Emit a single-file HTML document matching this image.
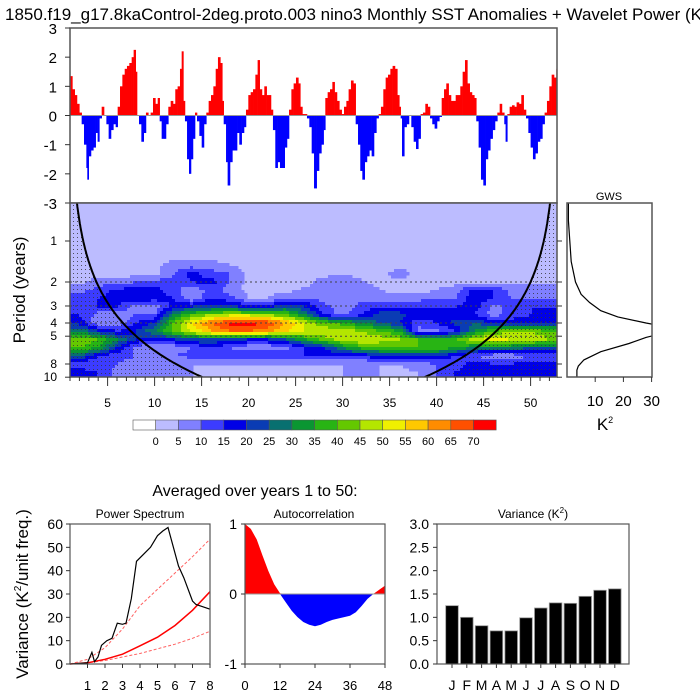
<!DOCTYPE html>
<html><head><meta charset="utf-8"><style>
html,body{margin:0;padding:0;background:#fff;}
svg{display:block;font-family:"Liberation Sans",Arial,sans-serif;}
</style></head><body>
<svg id="svg" width="700" height="700" viewBox="0 0 700 700" xmlns="http://www.w3.org/2000/svg">
<defs>
<pattern id="dots" width="4" height="4" patternUnits="userSpaceOnUse"><rect x="1" y="1" width="1" height="1" fill="#333"/></pattern>
<clipPath id="wclip"><rect x="70" y="203" width="487" height="174"/></clipPath>
<clipPath id="gclip"><rect x="567" y="203" width="85" height="174"/></clipPath>
<clipPath id="tclip"><rect x="70" y="28" width="487" height="175"/></clipPath>
</defs>
<text x="5" y="20" font-size="17">1850.f19_g17.8kaControl-2deg.proto.003 nino3 Monthly SST Anomalies + Wavelet Power (K²)</text>
<g id="topPanel"></g>
<g id="wav"></g>
<g id="gws"></g>
<g id="cbar"></g>
<text x="255" y="496" font-size="16" text-anchor="middle">Averaged over years 1 to 50:</text>
<g id="ps"></g>
<g id="ac"></g>
<g id="va"></g>
</svg>
<script>
// ---- data ----
const tsYears=[1.00,1.25,1.50,1.74,1.99,2.24,2.49,2.74,2.84,2.99,3.23,3.48,3.73,3.94,4.12,4.37,4.62,4.87,5.11,5.36,5.61,5.86,6.07,6.32,6.57,6.82,7.06,7.31,7.56,7.77,7.99,8.13,8.34,8.59,8.84,9.08,9.33,9.58,9.83,10.08,10.33,10.54,10.75,11.00,11.21,11.46,11.71,11.96,12.20,12.45,12.70,12.88,13.06,13.23,13.45,13.66,13.87,14.08,14.30,14.51,14.76,15.01,15.25,15.50,15.75,16.00,16.25,16.50,16.74,16.99,17.20,17.35,17.60,17.77,18.02,18.27,18.55,18.77,19.01,19.26,19.51,19.72,19.97,20.22,20.47,20.72,20.96,21.18,21.42,21.67,21.92,22.17,22.38,22.59,22.84,23.09,23.34,23.59,23.84,24.08,24.30,24.55,24.79,25.04,25.29,25.50,25.72,26.00,26.21,26.46,26.71,26.96,27.24,27.49,27.74,27.98,28.16,28.41,28.66,28.91,29.15,29.40,29.65,29.90,30.15,30.40,30.64,30.89,31.14,31.39,31.64,31.88,32.10,32.35,32.59,32.84,33.09,33.34,33.59,33.83,34.08,34.33,34.58,34.83,35.08,35.32,35.57,35.82,36.03,36.18,36.32,36.56,36.81,37.06,37.31,37.56,37.81,38.05,38.30,38.55,38.80,39.05,39.30,39.54,39.79,40.04,40.29,40.54,40.79,41.03,41.28,41.53,41.78,42.03,42.27,42.52,42.77,43.02,43.27,43.52,43.76,44.01,44.22,44.47,44.72,44.97,45.22,45.46,45.71,45.96,46.21,46.46,46.71,46.95,47.20,47.34,47.52,47.77,48.02,48.27,48.51,48.76,49.01,49.26,49.51,49.76,50.00,50.25,50.50,50.75,51.00,51.25,51.49,51.74,51.99,52.24,52.49,52.74,52.99];
const tsValues=[1.35,0.9,0.7,0.4,0.1,-0.3,-1.0,-1.8,-2.2,-1.4,-1.2,-1.1,-0.6,-0.9,-0.1,0.3,0,-0.3,-0.8,-0.5,-0.3,-0.4,0.3,1.0,1.4,1.6,1.7,1.8,2.0,2.25,1.5,0,-0.3,-0.9,-0.6,0.1,0,0.1,0.6,0.4,0.6,-0.2,-0.8,-0.8,-0.3,0.3,0.5,0.4,0.9,1.0,1.6,2.2,0.5,-0.2,-1.5,-2.0,-1.5,-0.8,0.1,-0.2,-0.7,-1.1,-0.3,0.1,0.5,0.7,1.0,1.6,2.0,1.8,0.5,-0.3,-1.6,-2.4,-1.6,-1.2,-1.2,-0.6,-1.0,-0.6,-0.4,0.2,0.7,0.8,0.9,1.4,1.9,0.9,0.7,1.0,0.7,0.7,0.2,-0.5,-1.8,-1.6,-1.8,-1.8,-1.1,-0.8,0.2,0.9,1.1,1.3,1.1,0.3,0.05,0.05,-0.1,-0.4,-1.3,-2.5,-1.9,-1.3,-1.0,-0.5,0.6,0.8,0.9,1.15,0.8,0.5,0.2,0.05,0.3,0.5,0.9,1.2,1.1,-0.3,-1.0,-1.9,-2.2,-1.6,-1.4,-1.2,-1.4,-0.6,-0.1,0.05,0.3,0.9,1.3,1.4,1.6,1.7,1.6,0.7,0.3,-0.1,-1.4,-0.4,-0.3,0,-0.4,-0.9,-1.15,-0.8,0.05,0.1,0.4,0.3,-0.1,-0.3,-0.45,-0.2,-0.05,0.6,0.9,1.1,0.7,0.5,0.5,0.7,0.7,1.0,1.5,1.9,1.1,0.8,0.7,0.6,-0.2,-1.1,-2.2,-2.4,-1.5,-1.2,-0.8,-0.5,-0.2,0.1,0.4,0.1,-0.3,-0.9,0.05,0.3,0.35,0.3,0.45,0.4,0.7,0.2,-0.1,-0.6,-1.1,-1.5,-1.3,-0.9,-0.8,-0.3,0.1,0.5,1.0,1.4,1.3,1.6,1.3];
// wavelet power: columns at years 2,4,...,52; rows at log2(period)
const wavYears=[2,4,6,8,10,12,14,16,18,20,22,24,26,28,30,32,34,36,38,40,42,44,46,48,50,52];
const wavLog2Periods=[0.4,0.6,0.8,1.0,1.2,1.4,1.6,1.8,2.0,2.2,2.4,2.6,2.8,3.0,3.2];
const wavPower=[
[3,3,3,3,3,3,3,3,3,3,3,3,3,3,3,3,3,3,3,3,3,3,3,3,3,3],
[3,3,3,3,3,8,8,8,5,3,3,3,3,3,3,3,3,3,3,3,3,3,3,3,3,3],
[3,3,3,3,3,10,17,12,10,3,3,3,3,3,5,3,3,8,3,3,3,3,3,3,3,3],
[3,8,6,10,12,12,15,17,10,3,3,3,3,8,8,6,3,3,3,3,3,3,3,3,3,3],
[8,12,17,17,17,12,6,12,8,3,3,3,6,8,8,8,5,3,3,5,8,17,15,8,8,8],
[12,15,18,18,18,15,6,15,12,5,5,10,10,8,8,8,8,8,8,10,10,18,15,10,10,10],
[12,15,15,8,6,18,20,22,22,18,18,25,20,12,6,12,15,15,15,15,15,18,8,12,15,15],
[15,8,6,10,10,30,40,45,48,48,45,40,30,15,8,15,22,22,18,18,18,15,8,12,15,18],
[18,6,6,15,20,40,55,65,72,72,70,60,50,40,38,30,25,20,12,15,22,25,20,18,20,20],
[30,20,15,20,30,42,50,60,65,65,62,55,50,50,48,45,40,35,8,8,15,30,40,45,45,40],
[45,40,30,20,15,20,25,25,22,20,20,25,35,42,48,50,48,45,40,38,40,48,52,50,50,45],
[40,35,20,8,6,6,10,15,10,6,6,8,15,20,30,38,40,40,40,40,35,30,30,30,25,25],
[25,15,12,10,8,10,12,15,15,15,15,15,15,15,15,15,20,22,22,20,15,10,6,6,10,10],
[10,12,10,8,5,5,5,5,5,5,5,5,5,5,5,5,5,5,8,10,12,18,15,15,18,18],
[18,15,8,8,6,5,5,3,3,3,3,3,3,3,5,5,5,3,5,10,15,20,20,20,20,20]];
const cbLabels=[0,5,10,15,20,25,30,35,40,45,50,55,60,65,70];
const gwsLog2=[-0.93,-0.5,0,0.5,1.0,1.3,1.5,1.7,1.85,2.0,2.1,2.25,2.35,2.5,2.7,2.9,3.05,3.15,3.32];
const gwsPower=[0.5,0.5,1,1.5,3,5,8,12,18,28,36,34,28,22,12,6,4,3.5,3.5];
const psPeriod=[0,1,1.25,1.4,1.6,1.8,2.1,2.4,2.7,3,3.2,3.5,3.8,4.2,4.6,5,5.3,5.6,6.2,6.5,7,7.2,7.6,8];
const psPower=[0,0.5,5,1,3,8,10,11,17.5,17,17.5,28,44,47,50,55,57,58.5,42,37,27,25.5,24.5,23.5];
const redX=[0,1,2,3,4,5,6,7,8];
const redMid=[0,0.5,2,4.2,7.8,11.5,16.5,23,31];
const redUp=[0,2,7,15,25,32,39,46,53.5];
const redLo=[0,0.5,1.5,3,4.5,6.5,8.5,11,14];
const acLags=[0,2,4,6,8,10,12,14,16,18,20,22,24,26,28,30,32,34,36,38,40,42,44,46,48];
const acVals=[1,0.93,0.78,0.55,0.33,0.14,0.01,-0.12,-0.24,-0.33,-0.40,-0.44,-0.46,-0.44,-0.40,-0.37,-0.35,-0.33,-0.31,-0.26,-0.17,-0.07,0.0,0.06,0.12];
const months=["J","F","M","A","M","J","J","A","S","O","N","D"];
const monthVar=[1.25,1.0,0.82,0.71,0.71,0.99,1.2,1.31,1.30,1.45,1.58,1.61];

const NS="http://www.w3.org/2000/svg";
function mk(parent,tag,attrs,text){const e=document.createElementNS(NS,tag);for(const k in attrs)e.setAttribute(k,attrs[k]);if(text!==undefined)e.textContent=text;parent.appendChild(e);return e;}
function txt(p,x,y,s,size,anchor,name){const e=mk(p,'text',{x:x,y:y,'font-size':size,'text-anchor':anchor||'middle'},s);

return e;}

// ---- top time series ----
const topG=document.getElementById('topPanel');
const tX=y=>70+(y-1)*9.4, tY=v=>115.5-v*29.17;
const tg=mk(topG,'g',{'clip-path':'url(#tclip)'});
for(let i=0;i<tsYears.length;i++){
  const x0=tX(tsYears[i]), x1=i<tsYears.length-1?tX(tsYears[i+1]):tX(tsYears[i]+0.25);
  const v=tsValues[i], y=Math.min(tY(v),tY(0)), h=Math.abs(tY(v)-tY(0));
  const r=mk(tg,'rect',{x:x0,y:y,width:x1-x0+0.3,height:h,fill:v>=0?'#ff0000':'#0000ff'});
  
  
}
mk(topG,'line',{x1:70,x2:557,y1:tY(0),y2:tY(0),stroke:'#999','stroke-width':1});
mk(topG,'rect',{x:70,y:28,width:487,height:175,fill:'none',stroke:'#555','stroke-width':1.5});
for(let v=-3;v<=3;v++){mk(topG,'line',{x1:65,x2:70,y1:tY(v),y2:tY(v),stroke:'#333'});
 txt(topG,57,tY(v)+6,String(v),15,'end','y-tick-label');}

// ---- wavelet ----
const wav=document.getElementById('wav');
const wY=l=>241+41*l;
const levCols=['#ffffff','#bcbcff','#8080ff','#3c3cff','#0000e6','#0a3cb4','#087070','#0a9632','#28b414','#64c800','#b4e600','#f0f000','#ffc800','#ff8c00','#ff5000','#ff0000'];
function levOf(v){if(v<0)return 0;return Math.min(15,1+Math.floor(v/5));}
function interp(year,l){
  let ci=(year-wavYears[0])/2; ci=Math.max(0,Math.min(wavYears.length-1.001,ci));
  let ri=(l-wavLog2Periods[0])/0.2; ri=Math.max(0,Math.min(wavLog2Periods.length-1.001,ri));
  const c0=Math.floor(ci),r0=Math.floor(ri),fc=ci-c0,fr=ri-r0;
  const a=wavPower[r0][c0],b=wavPower[r0][c0+1],c=wavPower[r0+1][c0],d=wavPower[r0+1][c0+1];
  return (a*(1-fc)+b*fc)*(1-fr)+(c*(1-fc)+d*fc)*fr;}
const wg=mk(wav,'g',{'clip-path':'url(#wclip)'});
const bgR=mk(wg,'rect',{x:70,y:203,width:487,height:174,fill:levCols[1]});


const step=3;
for(let py=203;py<377;py+=step){
  const l=(py+step/2-241)/41;
  let runStart=70,runLev=-1;
  for(let px=70;px<=560;px+=step){
    const lev=px<557?levOf(interp(1+(px+step/2-70)/9.4,l)):-2;
    if(lev!==runLev){
      if(runLev>1){const r=mk(wg,'rect',{x:runStart,y:py,width:px-runStart+0.5,height:step+0.5,fill:levCols[runLev]});
        
        }
      runStart=px;runLev=lev;}
  }
}
// cone of influence
const coiX=P=>9.4*P/0.71;
let lp='',rp='';
for(let l=-0.93;l<=3.33;l+=0.05){const P=Math.pow(2,l);lp+=(lp?'L':'M')+(70+coiX(P)).toFixed(1)+','+wY(l).toFixed(1);rp+=(rp?'L':'M')+(557-coiX(P)).toFixed(1)+','+wY(l).toFixed(1);}
const dl=mk(wg,'path',{d:lp+'L70,377L70,203Z',fill:'url(#dots)',opacity:0.8});
const dr=mk(wg,'path',{d:rp+'L557,377L557,203Z',fill:'url(#dots)',opacity:0.8});
[2,3,4,5].forEach(P=>{const ln=mk(wg,'line',{x1:70,x2:557,y1:wY(Math.log2(P)),y2:wY(Math.log2(P)),stroke:'#444','stroke-dasharray':'2,3','stroke-width':1});});
const cl=mk(wg,'path',{d:lp,fill:'none',stroke:'#000','stroke-width':2});
const cr=mk(wg,'path',{d:rp,fill:'none',stroke:'#000','stroke-width':2});
mk(wav,'rect',{x:70,y:203,width:487,height:174,fill:'none',stroke:'#555','stroke-width':1.5});
[1,2,3,4,5,8,10].forEach(P=>{const y=wY(Math.log2(P));mk(wav,'line',{x1:65,x2:70,y1:y,y2:y,stroke:'#333'});mk(wav,'line',{x1:557,x2:562,y1:y,y2:y,stroke:'#333'});txt(wav,57,y+4,String(P),12,'end','period-tick-label');});
for(let yr=1;yr<=52;yr++){const x=tX(yr);const maj=yr%5===0;mk(wav,'line',{x1:x,x2:x,y1:377,y2:maj?386:381,stroke:'#333'});if(maj)txt(wav,x,407,String(yr),12,'middle','year-tick-label');}
const pl=txt(wav,0,0,'Period (years)',17,'middle','period-axis-title');pl.setAttribute('transform','translate(25,290) rotate(-90)');

// ---- GWS ----
const gws=document.getElementById('gws');
const gX=v=>567+2.82*v;
let gp='';gwsLog2.forEach((l,i)=>{gp+=(i?'L':'M')+gX(gwsPower[i]).toFixed(1)+','+wY(l).toFixed(1);});
const gl=mk(mk(gws,'g',{'clip-path':'url(#gclip)'}),'path',{d:gp,fill:'none',stroke:'#000','stroke-width':1.2});

mk(gws,'rect',{x:567,y:203,width:85,height:174,fill:'none',stroke:'#555','stroke-width':1.5});
[10,20,30].forEach(v=>{mk(gws,'line',{x1:gX(v),x2:gX(v),y1:377,y2:382,stroke:'#333'});txt(gws,gX(v),406,String(v),15,'middle','gws-tick-label');});
txt(gws,609,200,'GWS',11,'middle','gws-title');
const k2=txt(gws,605,430,'K',17,'middle','gws-axis-title');mk(k2,'tspan',{'font-size':9,dy:-7},'2');

// ---- colorbar ----
const cb=document.getElementById('cbar');
for(let i=0;i<16;i++){const r=mk(cb,'rect',{x:133+i*22.7,y:420,width:22.7,height:10,fill:levCols[i],stroke:'#555','stroke-width':0.6});
 
 }
cbLabels.forEach((v,i)=>txt(cb,133+(i+1)*22.7,445,String(v),11,'middle','colorbar-label'));

// ---- power spectrum ----
const ps=document.getElementById('ps');
const pX=v=>70+v*17.5, pY=v=>664-v*140/60;
txt(ps,140,518,'Power Spectrum',12,'middle','power-spectrum-title');
function line(p,xs,ys,fx,fy,attrs,name){let d='';xs.forEach((x,i)=>d+=(i?'L':'M')+fx(x).toFixed(1)+','+fy(ys[i]).toFixed(1));const e=mk(p,'path',Object.assign({d:d,fill:'none'},attrs));
 
 return e;}
line(ps,redX,redUp,pX,pY,{stroke:'#ff6060','stroke-width':1,'stroke-dasharray':'3,2'},'red-noise-upper');
line(ps,redX,redLo,pX,pY,{stroke:'#ff6060','stroke-width':1,'stroke-dasharray':'3,2'},'red-noise-lower');
line(ps,redX,redMid,pX,pY,{stroke:'#ff0000','stroke-width':1.5},'red-noise-spectrum');
line(ps,psPeriod,psPower,pX,pY,{stroke:'#000','stroke-width':1.2},'power-spectrum-line');
mk(ps,'rect',{x:70,y:524,width:140,height:140,fill:'none',stroke:'#555','stroke-width':1.2});
for(let v=0;v<=60;v+=10){mk(ps,'line',{x1:66,x2:70,y1:pY(v),y2:pY(v),stroke:'#333'});txt(ps,63,pY(v)+5,String(v),14,'end','spectrum-y-label');}
for(let v=1;v<=8;v++){mk(ps,'line',{x1:pX(v),x2:pX(v),y1:664,y2:668,stroke:'#333'});txt(ps,pX(v),690,String(v),13,'middle','spectrum-x-label');}
const vl=txt(ps,0,0,'Variance (K',17,'middle','variance-axis-title');vl.setAttribute('transform','translate(28,594) rotate(-90)');
mk(vl,'tspan',{'font-size':10,dy:-7},'2');mk(vl,'tspan',{dy:7},'/unit freq.)');

// ---- autocorrelation ----
const ac=document.getElementById('ac');
const aX=v=>245+v*140/48, aY=v=>594-v*70;
txt(ac,314,518,'Autocorrelation',12,'middle','autocorrelation-title');
function fillPart(sign,color,name){let d='M'+aX(acLags[0])+','+aY(0);
 for(let i=0;i<acLags.length;i++){const v=sign>0?Math.max(0,acVals[i]):Math.min(0,acVals[i]);d+='L'+aX(acLags[i]).toFixed(1)+','+aY(v).toFixed(1);}
 d+='L'+aX(acLags[acLags.length-1])+','+aY(0)+'Z';const e=mk(ac,'path',{d:d,fill:color});
 
 }
fillPart(1,'#ff0000','autocorr-positive-fill');fillPart(-1,'#0000ff','autocorr-negative-fill');
mk(ac,'line',{x1:245,x2:385,y1:aY(0),y2:aY(0),stroke:'#999'});
mk(ac,'rect',{x:245,y:524,width:140,height:140,fill:'none',stroke:'#555','stroke-width':1.2});
[1,0,-1].forEach(v=>{mk(ac,'line',{x1:241,x2:245,y1:aY(v),y2:aY(v),stroke:'#333'});txt(ac,237,aY(v)+5,String(v),14,'end','autocorr-y-label');});
[0,12,24,36,48].forEach(v=>{mk(ac,'line',{x1:aX(v),x2:aX(v),y1:664,y2:668,stroke:'#333'});txt(ac,aX(v),690,String(v),13,'middle','autocorr-x-label');});

// ---- variance ----
const va=document.getElementById('va');
const vX=i=>452+i*14.8, vY=v=>664-v*140/3;
const vt=txt(va,533,518,'Variance (K',12,'middle','variance-title');mk(vt,'tspan',{'font-size':8,dy:-5},'2');mk(vt,'tspan',{dy:5},')');
monthVar.forEach((v,i)=>{const r=mk(va,'rect',{x:vX(i)-6.3,y:vY(v),width:12.6,height:664-vY(v),fill:'#000',stroke:'#999','stroke-width':0.8});
 
 
 txt(va,vX(i),690,months[i],14,'middle','month-label');
 mk(va,'line',{x1:vX(i),x2:vX(i),y1:664,y2:668,stroke:'#333'});});
mk(va,'rect',{x:437,y:524,width:192,height:140,fill:'none',stroke:'#555','stroke-width':1.2});
for(let v=0;v<=3;v+=0.5){mk(va,'line',{x1:433,x2:437,y1:vY(v),y2:vY(v),stroke:'#333'});txt(va,429,vY(v)+5,v.toFixed(1),14,'end','variance-y-label');}
</script>
</body></html>
